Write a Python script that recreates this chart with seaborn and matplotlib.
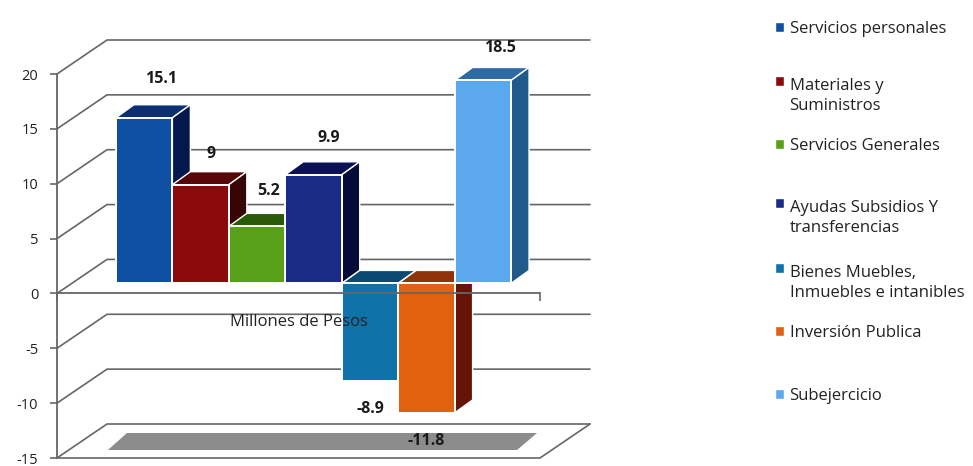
import matplotlib
matplotlib.use("Agg")
import matplotlib.pyplot as plt
import pandas as pd
import seaborn as sns
from matplotlib.patches import Polygon, Patch

category = "Millones de Pesos"
series = ["Servicios personales", "Materiales y\nSuministros", "Servicios Generales",
          "Ayudas Subsidios Y\ntransferencias", "Bienes Muebles,\nInmuebles e intanibles",
          "Inversión Publica", "Subejercicio"]
values = [15.1, 9, 5.2, 9.9, -8.9, -11.8, 18.5]
value_labels = ["15.1", "9", "5.2", "9.9", "-8.9", "-11.8", "18.5"]
y_ticks = [-15, -10, -5, 0, 5, 10, 15, 20]

front_colors = ["#1050A4", "#8C0A0C", "#58A018", "#1A2B86", "#0F72A8", "#E0620F", "#5CA8EE"]
top_colors = ["#0B2F72", "#560606", "#2A5A08", "#0B1154", "#0A4A72", "#8E3408", "#2E6AA6"]
side_colors = ["#05184E", "#380505", "#1E4206", "#050A38", "#083A5C", "#661408", "#1F5A8A"]

W, H = 973, 466
AX_L, AX_R, AX_TOP, AX_BOT = 57, 540, 74, 458
fig = plt.figure(figsize=(W / 100, H / 100), dpi=100, facecolor="white")
sns.set_theme(style="white", rc={"axes.facecolor": "none"})
plt.rcParams["font.family"] = ["Open Sans", "DejaVu Sans"]
plt.rcParams["axes.unicode_minus"] = False
ax = fig.add_axes([AX_L / W, 1 - AX_BOT / H, (AX_R - AX_L) / W, (AX_BOT - AX_TOP) / H])
ax.set_facecolor("none")

df = pd.DataFrame({"categoria": [category] * len(series), "serie": series, "valor": values})
sns.barplot(data=df, x="categoria", y="valor", hue="serie", hue_order=series,
            palette=front_colors, saturation=1, width=0.818, gap=0, dodge=True,
            edgecolor="white", linewidth=1.4, legend=False, ax=ax)
ax.set_xlim(-0.5, 0.5)
ax.set_ylim(-15, 20)

# pixel -> data scale
sx = 1.0 / (AX_R - AX_L)
sy = 35.0 / (AX_BOT - AX_TOP)
WALL_C = "#666666"
wall_dx, wall_dy = 50 * sx, 34 * sy
bar_shift_x, bar_shift_y = 15 * sx, 10 * sy
depth_x, depth_y = 18 * sx, 13 * sy

# walls and floor
for v in y_ticks:
    ax.plot([-0.5, -0.5 + wall_dx, 0.5 + wall_dx], [v, v + wall_dy, v + wall_dy],
            color=WALL_C, lw=1.2, zorder=0.5, clip_on=False)
ax.plot([-0.5, 0.5, 0.5 + wall_dx], [-15, -15, -15 + wall_dy],
        color=WALL_C, lw=1.2, zorder=0.5, clip_on=False)

# 3D bars
rects = [c[0] for c in ax.containers]
for i, r in enumerate(rects):
    z = 1 + i * 0.1
    r.set_x(r.get_x() + bar_shift_x)
    r.set_y(bar_shift_y)
    r.set_zorder(z + 0.02)
    r.set_clip_on(False)
    x0, w, h = r.get_x(), r.get_width(), r.get_height()
    y0 = bar_shift_y
    y1 = y0 + h
    ytop = max(y0, y1)
    ybot = min(y0, y1)
    ax.add_patch(Polygon([(x0, ytop), (x0 + w, ytop), (x0 + w + depth_x, ytop + depth_y),
                          (x0 + depth_x, ytop + depth_y)], closed=True, facecolor=top_colors[i],
                         edgecolor="white", lw=1, zorder=z, clip_on=False))
    ax.add_patch(Polygon([(x0 + w, ytop), (x0 + w + depth_x, ytop + depth_y),
                          (x0 + w + depth_x, ybot + depth_y), (x0 + w, ybot)], closed=True,
                         facecolor=side_colors[i], edgecolor="white", lw=1, zorder=z, clip_on=False))

# floor shadow
left = rects[0].get_x()
right = rects[-1].get_x() + rects[-1].get_width()
sh_y0, sh_y1 = -15 + 8 * sy, -15 + 25 * sy
ax.add_patch(Polygon([(left - 8 * sx, sh_y0), (right + 6 * sx, sh_y0),
                      (right + 26 * sx, sh_y1), (left + 11 * sx, sh_y1)], closed=True,
                     facecolor="#8C8C8C", edgecolor="none", zorder=0.6, clip_on=False))

# data labels (pixel offsets relative to each bar end)
label_offsets = [(17, 39), (10, 31), (12, 35), (15, 37), (0, -28), (0, -28), (17, 32)]
for r, txt, (ox, oy), v in zip(rects, value_labels, label_offsets, values):
    ax.annotate(txt, (r.get_x() + r.get_width() / 2, r.get_y() + r.get_height()),
                xytext=(ox, oy), textcoords=("offset pixels"), ha="center", va="center",
                fontsize=11.5, fontweight="bold", color="#1A1A1A", zorder=5,
                annotation_clip=False)

# axes
for s in ["top", "right"]:
    ax.spines[s].set_visible(False)
ax.spines["bottom"].set_position(("data", 0))
for s in ["bottom", "left"]:
    ax.spines[s].set_color(WALL_C)
    ax.spines[s].set_linewidth(1.3)
ax.set_yticks(y_ticks)
ax.set_xticks([-0.5, 0.5], minor=True)
ax.set_xticks([0], [category])
ax.set_xlabel("")
ax.set_ylabel("")
ax.tick_params(axis="y", length=5, width=1.2, color=WALL_C, labelsize=10.5, labelcolor="#222222", pad=8.5, left=True)
ax.tick_params(axis="x", which="major", length=0, pad=15, labelsize=12, labelcolor="#222222")
ax.tick_params(axis="x", which="minor", length=6, width=1.2, color=WALL_C, bottom=True)
ax.set_axisbelow(False)

# legend: one block per entry, the spacing in the original is irregular
legend_tops = [21, 78, 138, 200, 265, 325, 388]
for name, col, top in zip(series, front_colors, legend_tops):
    leg = fig.legend(handles=[Patch(facecolor=col)], labels=[name], loc="upper left",
                     bbox_to_anchor=(775 / W, 1 - top / H), frameon=False, borderpad=0,
                     borderaxespad=0, handlelength=0.55, handleheight=0.55, handletextpad=0.32,
                     fontsize=12, labelcolor="#222222")
    for t in leg.get_texts():
        t.set_linespacing(1.3)
    if "\n" in name:
        for p in leg.get_patches():
            p.set_y(p.get_y() + 11)

fig.savefig("out.png", dpi=100, facecolor="white")
